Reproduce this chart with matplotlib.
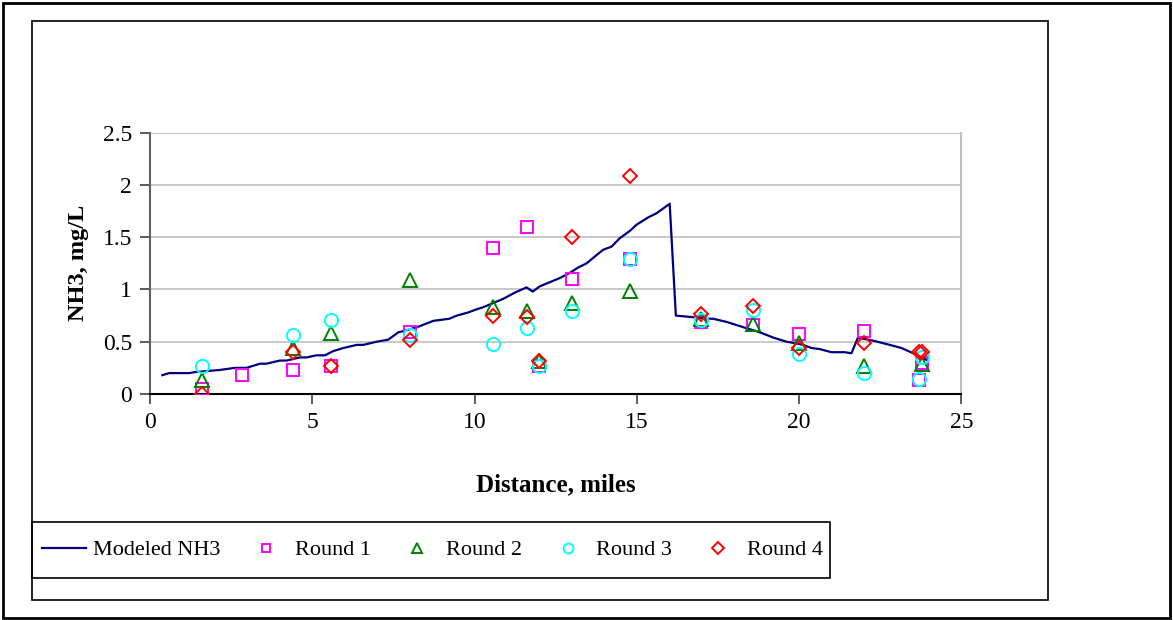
import matplotlib
matplotlib.use("Agg")
import matplotlib.pyplot as plt
from matplotlib.patches import Rectangle

plt.rcParams['font.family'] = ['Liberation Serif', 'DejaVu Serif']

# Modeled NH3 profile
model_x = [0.38, 0.59, 1.21, 1.39, 2.15, 2.62, 2.97, 3.39, 3.59, 4.00, 4.21, 4.62, 4.82,
           5.13, 5.39, 5.64, 5.96, 6.37, 6.57, 6.98, 7.34, 7.65, 7.91, 8.32, 8.73, 9.22,
           9.45, 9.80, 10.06, 10.26, 10.57, 10.88, 11.24, 11.60, 11.79, 12.01, 12.32,
           12.63, 12.94, 13.19, 13.45, 13.76, 13.96, 14.22, 14.47, 14.78, 14.99, 15.35,
           15.61, 16.01, 16.20, 17.25, 17.35, 17.76, 18.27, 18.79, 19.20, 19.61, 19.81,
           20.12, 20.38, 20.63, 20.99, 21.40, 21.61, 21.81, 22.28, 22.79, 23.15, 23.51,
           23.97]
model_y = [0.18, 0.20, 0.20, 0.21, 0.23, 0.25, 0.25, 0.29, 0.29, 0.32, 0.32, 0.35, 0.35,
           0.37, 0.37, 0.41, 0.44, 0.47, 0.47, 0.50, 0.52, 0.59, 0.61, 0.65, 0.70, 0.72,
           0.75, 0.78, 0.81, 0.83, 0.87, 0.91, 0.97, 1.02, 0.98, 1.03, 1.07,
           1.11, 1.16, 1.21, 1.25, 1.33, 1.38, 1.41, 1.49, 1.56, 1.62, 1.69,
           1.73, 1.82, 0.75, 0.72, 0.72, 0.69, 0.64, 0.59, 0.54, 0.50, 0.49,
           0.47, 0.44, 0.43, 0.40, 0.40, 0.39, 0.54, 0.51, 0.47, 0.44, 0.39,
           0.32]

# Observations
r1_x = [1.59, 2.82, 4.41, 5.57, 8.01, 10.57, 11.60, 11.99, 13.00, 14.80, 16.97, 18.58, 20.00, 21.99, 23.69, 23.77]
r1_y = [0.05, 0.18, 0.23, 0.27, 0.59, 1.40, 1.60, 0.27, 1.10, 1.29, 0.69, 0.66, 0.57, 0.60, 0.13, 0.30]

r2_x = [1.59, 4.41, 5.57, 8.01, 10.57, 11.60, 11.99, 13.00, 14.80, 16.97, 18.58, 20.00, 21.99, 23.77]
r2_y = [0.13, 0.44, 0.58, 1.09, 0.83, 0.79, 0.32, 0.87, 0.99, 0.72, 0.67, 0.49, 0.27, 0.29]

r3_x = [1.59, 4.41, 5.57, 8.01, 10.57, 11.60, 11.99, 13.00, 14.80, 16.97, 18.58, 20.00, 21.99, 23.69, 23.77]
r3_y = [0.27, 0.56, 0.71, 0.56, 0.48, 0.63, 0.27, 0.79, 1.29, 0.71, 0.80, 0.38, 0.20, 0.14, 0.35]

r4_x = [1.59, 4.41, 5.57, 8.01, 10.57, 11.60, 11.99, 13.00, 14.80, 16.97, 18.58, 20.00, 21.99, 23.69, 23.77]
r4_y = [0.00, 0.40, 0.27, 0.52, 0.75, 0.74, 0.32, 1.50, 2.09, 0.77, 0.84, 0.44, 0.49, 0.40, 0.40]

x_ticks = [0, 5, 10, 15, 20, 25]
y_ticks = [0, 0.5, 1, 1.5, 2, 2.5]
y_tick_labels = ['0', '0.5', '1', '1.5', '2', '2.5']

W, H = 1173, 620
fig = plt.figure(figsize=(W / 100, H / 100), dpi=100)

def fx(px):
    return px / W

def fy(py):
    return 1 - py / H

# frames
fig.patches.append(Rectangle((fx(3), fy(618)), fx(1167), 615 / H, transform=fig.transFigure,
                             fill=False, edgecolor='black', linewidth=2.0))
fig.patches.append(Rectangle((fx(32), fy(600)), fx(1016), 579 / H, transform=fig.transFigure,
                             fill=False, edgecolor='black', linewidth=1.2))
fig.patches.append(Rectangle((fx(32), fy(578)), fx(798), 56 / H, transform=fig.transFigure,
                             fill=False, edgecolor='black', linewidth=1.2))

ax = fig.add_axes([fx(150), fy(394), fx(811.5), 261.3 / H])
ax.set_xlim(0, 25)
ax.set_ylim(0, 2.5)

ax.plot(model_x, model_y, color='#000080', linewidth=1.6, label='Modeled NH3', zorder=3)
mk = dict(linestyle='none', markerfacecolor='none', markeredgewidth=1.4, zorder=4)
ax.plot(r1_x, r1_y, marker='s', markersize=8.5, markeredgecolor='#FF00FF', label='Round 1', **mk)
ax.plot(r2_x, r2_y, marker='^', markersize=9.5, markeredgecolor='#008000', label='Round 2', **mk)
ax.plot(r3_x, r3_y, marker='o', markersize=9.5, markeredgecolor='#00FFFF', label='Round 3', **mk)
ax.plot(r4_x, r4_y, marker='D', markersize=7.5, markeredgecolor='#FF0000', label='Round 4', **mk)

ax.set_xticks(x_ticks)
ax.set_yticks(y_ticks)
ax.set_yticklabels(y_tick_labels)
ax.tick_params(axis='both', labelsize=17, length=7, width=1.2, color='#404040', pad=6)
ax.grid(axis='y', color='#c0c0c0', linewidth=1.2)
ax.set_axisbelow(True)
ax.spines['top'].set_visible(False)
ax.spines['right'].set_color('#c0c0c0')
ax.spines['right'].set_linewidth(1.5)
ax.spines['left'].set_color('#606060')
ax.spines['left'].set_linewidth(1.5)
ax.spines['bottom'].set_color('black')
ax.spines['bottom'].set_linewidth(1.5)

ax.set_xlabel('Distance, miles', fontsize=18, fontweight='bold', labelpad=29)
ax.set_ylabel('NH3, mg/L', fontsize=17.5, fontweight='bold', labelpad=10)

leg = ax.legend(loc='center left', bbox_to_anchor=(fx(42), fy(550)), bbox_transform=fig.transFigure,
                ncol=5, frameon=False, fontsize=16, handlelength=2.0, handletextpad=0.3,
                columnspacing=1.06, markerscale=0.75, borderaxespad=0, borderpad=0)

fig.savefig('out.png', dpi=100)
